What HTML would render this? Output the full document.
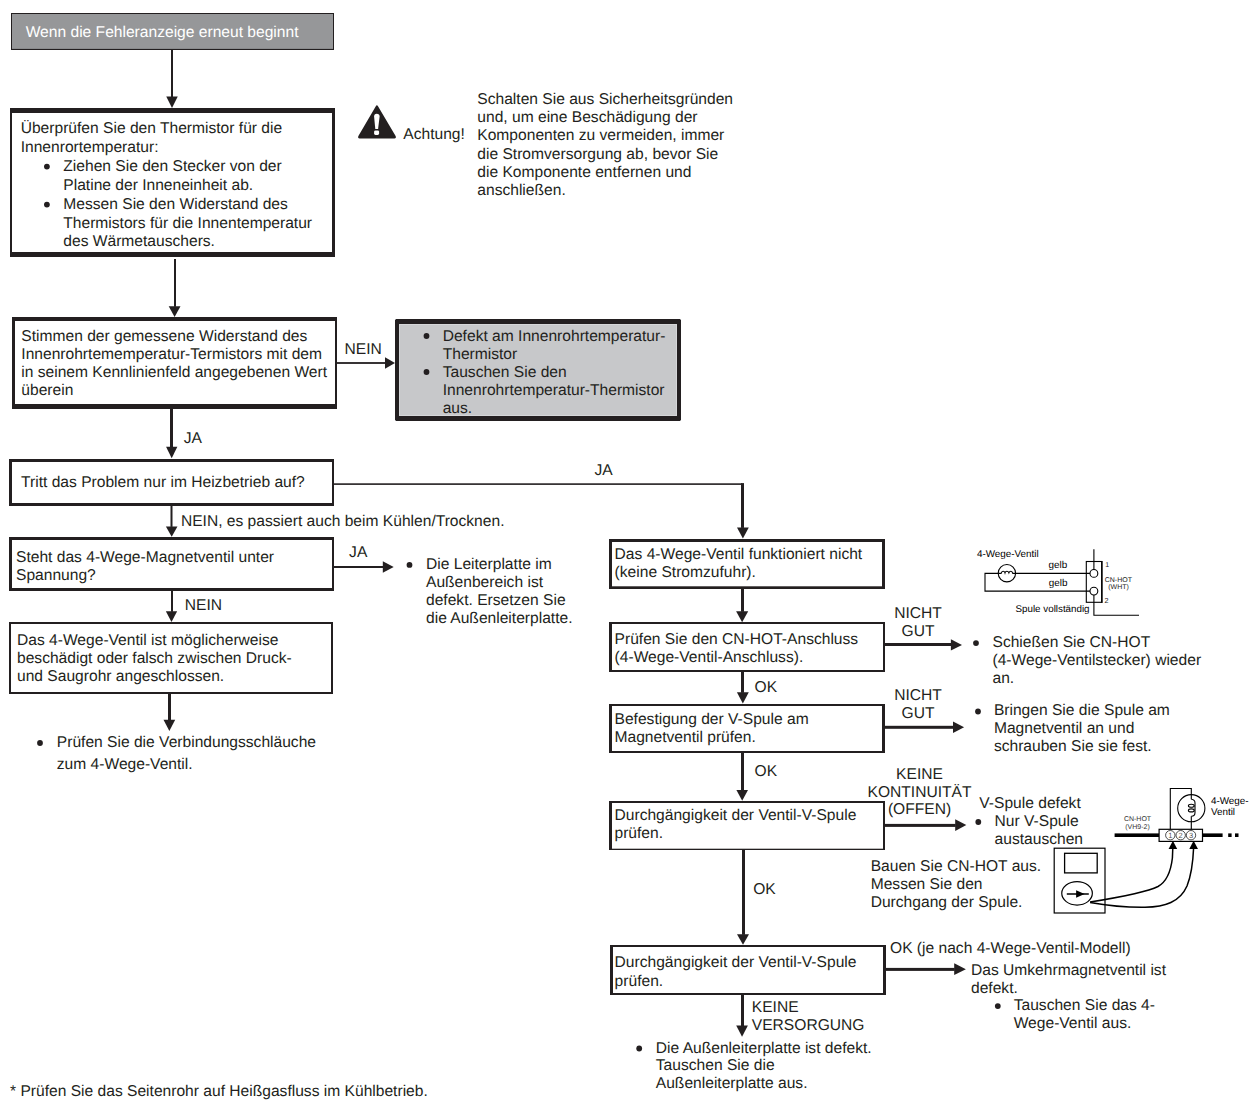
<!DOCTYPE html>
<html><head><meta charset="utf-8"><style>
html,body{margin:0;padding:0;background:#fff;width:1257px;height:1112px;overflow:hidden}
svg{display:block;font-family:"Liberation Sans",sans-serif;text-rendering:geometricPrecision}
</style></head><body>
<svg width="1257" height="1112" viewBox="0 0 1257 1112">
<rect x="11.00" y="13.00" width="323.00" height="37.00" fill="#969799"/>
<rect x="11.00" y="13.00" width="323.00" height="1.00" fill="#231f20"/>
<rect x="11.00" y="48.90" width="323.00" height="1.10" fill="#231f20"/>
<rect x="11.00" y="13.00" width="1.00" height="37.00" fill="#231f20"/>
<rect x="333.00" y="13.00" width="1.00" height="37.00" fill="#231f20"/>
<text x="25.70" y="37.00" font-size="15.6" fill="#fff">Wenn die Fehleranzeige erneut beginnt</text>
<rect x="171.00" y="50.00" width="2.00" height="47.10" fill="#231f20"/>
<path d="M166.25,96.60 L177.75,96.60 L172.00,108.00Z" fill="#231f20"/>
<rect x="10.00" y="108.00" width="325.00" height="5.00" fill="#231f20"/>
<rect x="10.00" y="252.00" width="325.00" height="5.00" fill="#231f20"/>
<rect x="10.00" y="108.00" width="2.00" height="149.00" fill="#231f20"/>
<rect x="332.00" y="108.00" width="3.00" height="149.00" fill="#231f20"/>
<text x="20.70" y="133.00" font-size="15.6" fill="#231f20">Überprüfen Sie den Thermistor für die</text>
<text x="20.70" y="151.90" font-size="15.6" fill="#231f20">Innenrortemperatur:</text>
<circle cx="46.90" cy="166.60" r="2.9" fill="#231f20"/>
<circle cx="46.90" cy="204.60" r="2.9" fill="#231f20"/>
<text x="63.30" y="170.80" font-size="15.6" fill="#231f20">Ziehen Sie den Stecker von der</text>
<text x="63.30" y="189.70" font-size="15.6" fill="#231f20">Platine der Inneneinheit ab.</text>
<text x="63.30" y="208.60" font-size="15.6" fill="#231f20">Messen Sie den Widerstand des</text>
<text x="63.30" y="227.50" font-size="15.6" fill="#231f20">Thermistors für die Innentemperatur</text>
<text x="63.30" y="246.40" font-size="15.6" fill="#231f20">des Wärmetauschers.</text>
<path d="M375.8,106.2 Q376.9,104.3 378.0,106.2 L395.6,136.0 Q396.6,138.4 394.4,138.4 L359.6,138.4 Q357.4,138.4 358.4,136.0 Z" fill="#231f20"/>
<path d="M374.1,116.5 Q374.1,113.7 376.7,113.7 Q379.6,113.7 379.6,116.5 L378.1,129.0 L375.3,129.0 Z" fill="#fff"/>
<rect x="374.1" y="130.4" width="5" height="4.5" rx="1.4" fill="#fff"/>
<text x="403.30" y="138.60" font-size="15.6" fill="#231f20">Achtung!</text>
<text x="477.30" y="103.80" font-size="15.6" fill="#231f20">Schalten Sie aus Sicherheitsgründen</text>
<text x="477.30" y="122.06" font-size="15.6" fill="#231f20">und, um eine Beschädigung der</text>
<text x="477.30" y="139.90" font-size="15.6" fill="#231f20">Komponenten zu vermeiden, immer</text>
<text x="477.30" y="158.90" font-size="15.6" fill="#231f20">die Stromversorgung ab, bevor Sie</text>
<text x="477.30" y="176.74" font-size="15.6" fill="#231f20">die Komponente entfernen und</text>
<text x="477.30" y="194.80" font-size="15.6" fill="#231f20">anschließen.</text>
<rect x="174.00" y="259.00" width="2.00" height="47.80" fill="#231f20"/>
<path d="M168.70,306.30 L180.50,306.30 L174.60,317.00Z" fill="#231f20"/>
<rect x="12.00" y="317.00" width="325.00" height="4.00" fill="#231f20"/>
<rect x="12.00" y="404.00" width="325.00" height="5.00" fill="#231f20"/>
<rect x="12.00" y="317.00" width="3.00" height="92.00" fill="#231f20"/>
<rect x="335.00" y="317.00" width="2.00" height="92.00" fill="#231f20"/>
<text x="21.30" y="340.80" font-size="15.6" fill="#231f20">Stimmen der gemessene Widerstand des</text>
<text x="21.30" y="358.80" font-size="15.6" fill="#231f20">Innenrohrtememperatur-Termistors mit dem</text>
<text x="21.30" y="376.80" font-size="15.6" fill="#231f20">in seinem Kennlinienfeld angegebenen Wert</text>
<text x="21.30" y="394.80" font-size="15.6" fill="#231f20">überein</text>
<rect x="337.00" y="362.10" width="48.50" height="1.80" fill="#231f20"/>
<path d="M385.00,357.25 L385.00,368.75 L395.00,363.00Z" fill="#231f20"/>
<text x="344.50" y="353.60" font-size="15.6" fill="#231f20">NEIN</text>
<rect x="395.00" y="319.00" width="286.00" height="102.00" fill="#c7c8ca"/>
<rect x="399.00" y="324.00" width="278.00" height="1.00" fill="#d5d6d8"/>
<rect x="399.00" y="324.00" width="1.00" height="92.00" fill="#d5d6d8"/>
<rect x="399.00" y="415.00" width="278.00" height="1.00" fill="#d5d6d8"/>
<rect x="676.00" y="324.00" width="1.00" height="92.00" fill="#d5d6d8"/>
<rect x="396.00" y="319.00" width="284.00" height="5.00" fill="#231f20"/>
<rect x="396.00" y="416.00" width="284.00" height="5.00" fill="#231f20"/>
<rect x="395.00" y="320.00" width="4.00" height="100.00" fill="#231f20"/>
<rect x="677.00" y="320.00" width="4.00" height="100.00" fill="#231f20"/>
<rect x="395.50" y="319.50" width="3.50" height="4.50" fill="#231f20"/>
<rect x="677.00" y="319.50" width="3.50" height="4.50" fill="#231f20"/>
<rect x="395.50" y="416.00" width="3.50" height="4.50" fill="#231f20"/>
<rect x="677.00" y="416.00" width="3.50" height="4.50" fill="#231f20"/>
<circle cx="426.50" cy="336.00" r="2.9" fill="#231f20"/>
<circle cx="426.50" cy="372.00" r="2.9" fill="#231f20"/>
<text x="442.70" y="340.70" font-size="15.6" fill="#231f20">Defekt am Innenrohrtemperatur-</text>
<text x="442.70" y="358.80" font-size="15.6" fill="#231f20">Thermistor</text>
<text x="442.70" y="376.90" font-size="15.6" fill="#231f20">Tauschen Sie den</text>
<text x="442.70" y="395.00" font-size="15.6" fill="#231f20">Innenrohrtemperatur-Thermistor</text>
<text x="442.70" y="413.10" font-size="15.6" fill="#231f20">aus.</text>
<rect x="170.00" y="409.00" width="3.00" height="38.20" fill="#231f20"/>
<path d="M166.05,446.70 L177.35,446.70 L171.70,458.30Z" fill="#231f20"/>
<text x="183.80" y="442.70" font-size="15.6" fill="#231f20">JA</text>
<rect x="9.00" y="459.00" width="325.00" height="3.00" fill="#231f20"/>
<rect x="9.00" y="503.00" width="325.00" height="3.00" fill="#231f20"/>
<rect x="9.00" y="459.00" width="3.00" height="47.00" fill="#231f20"/>
<rect x="332.00" y="459.00" width="2.00" height="47.00" fill="#231f20"/>
<text x="21.10" y="486.90" font-size="15.6" fill="#231f20">Tritt das Problem nur im Heizbetrieb auf?</text>
<rect x="334.00" y="483.30" width="408.00" height="1.60" fill="#231f20"/>
<rect x="741.00" y="483.10" width="3.00" height="44.80" fill="#231f20"/>
<path d="M737.00,527.40 L748.80,527.40 L742.90,538.40Z" fill="#231f20"/>
<text x="594.40" y="475.00" font-size="15.6" fill="#231f20">JA</text>
<rect x="170.50" y="506.00" width="2.00" height="20.90" fill="#231f20"/>
<path d="M165.90,526.40 L177.50,526.40 L171.70,536.80Z" fill="#231f20"/>
<text x="180.90" y="526.40" font-size="15.6" fill="#231f20">NEIN, es passiert auch beim Kühlen/Trocknen.</text>
<rect x="9.00" y="537.00" width="325.00" height="3.00" fill="#231f20"/>
<rect x="9.00" y="588.00" width="325.00" height="3.00" fill="#231f20"/>
<rect x="9.00" y="537.00" width="3.00" height="54.00" fill="#231f20"/>
<rect x="332.00" y="537.00" width="2.00" height="54.00" fill="#231f20"/>
<text x="16.00" y="561.70" font-size="15.6" fill="#231f20">Steht das 4-Wege-Magnetventil unter</text>
<text x="16.00" y="579.50" font-size="15.6" fill="#231f20">Spannung?</text>
<rect x="334.00" y="566.00" width="49.30" height="2.00" fill="#231f20"/>
<path d="M382.80,561.15 L382.80,572.85 L393.70,567.00Z" fill="#231f20"/>
<text x="349.10" y="557.10" font-size="15.6" fill="#231f20">JA</text>
<circle cx="409.50" cy="564.90" r="2.9" fill="#231f20"/>
<text x="426.00" y="568.90" font-size="15.6" fill="#231f20">Die Leiterplatte im</text>
<text x="426.00" y="586.80" font-size="15.6" fill="#231f20">Außenbereich ist</text>
<text x="426.00" y="604.70" font-size="15.6" fill="#231f20">defekt. Ersetzen Sie</text>
<text x="426.00" y="622.60" font-size="15.6" fill="#231f20">die Außenleiterplatte.</text>
<rect x="171.00" y="591.00" width="2.00" height="20.80" fill="#231f20"/>
<path d="M165.85,611.30 L177.15,611.30 L171.50,622.10Z" fill="#231f20"/>
<text x="184.80" y="610.40" font-size="15.6" fill="#231f20">NEIN</text>
<rect x="9.00" y="622.00" width="324.00" height="2.00" fill="#231f20"/>
<rect x="9.00" y="692.00" width="324.00" height="2.00" fill="#231f20"/>
<rect x="9.00" y="622.00" width="2.00" height="72.00" fill="#231f20"/>
<rect x="331.00" y="622.00" width="2.00" height="72.00" fill="#231f20"/>
<text x="17.00" y="644.60" font-size="15.6" fill="#231f20">Das 4-Wege-Ventil ist möglicherweise</text>
<text x="17.00" y="662.60" font-size="15.6" fill="#231f20">beschädigt oder falsch zwischen Druck-</text>
<text x="17.00" y="680.60" font-size="15.6" fill="#231f20">und Saugrohr angeschlossen.</text>
<rect x="168.00" y="694.00" width="3.00" height="26.30" fill="#231f20"/>
<path d="M163.50,719.80 L175.20,719.80 L169.35,730.90Z" fill="#231f20"/>
<circle cx="40.00" cy="743.00" r="2.9" fill="#231f20"/>
<text x="56.80" y="747.00" font-size="15.6" fill="#231f20">Prüfen Sie die Verbindungsschläuche</text>
<text x="56.80" y="768.70" font-size="15.6" fill="#231f20">zum 4-Wege-Ventil.</text>
<rect x="609.00" y="539.00" width="276.00" height="3.00" fill="#231f20"/>
<rect x="609.00" y="586.30" width="276.00" height="2.70" fill="#231f20"/>
<rect x="609.00" y="539.00" width="3.00" height="50.00" fill="#231f20"/>
<rect x="882.00" y="539.00" width="3.00" height="50.00" fill="#231f20"/>
<text x="614.60" y="558.70" font-size="15.6" fill="#231f20">Das 4-Wege-Ventil funktioniert nicht</text>
<text x="614.60" y="576.50" font-size="15.6" fill="#231f20">(keine Stromzufuhr).</text>
<rect x="741.00" y="589.00" width="3.00" height="22.80" fill="#231f20"/>
<path d="M736.10,611.30 L748.20,611.30 L742.15,622.20Z" fill="#231f20"/>
<rect x="609.00" y="622.00" width="276.00" height="2.00" fill="#231f20"/>
<rect x="609.00" y="670.00" width="276.00" height="2.00" fill="#231f20"/>
<rect x="609.00" y="622.00" width="3.00" height="50.00" fill="#231f20"/>
<rect x="883.00" y="622.00" width="2.00" height="50.00" fill="#231f20"/>
<text x="614.60" y="643.90" font-size="15.6" fill="#231f20">Prüfen Sie den CN-HOT-Anschluss</text>
<text x="614.60" y="662.20" font-size="15.6" fill="#231f20">(4-Wege-Ventil-Anschluss).</text>
<rect x="885.00" y="643.00" width="66.40" height="3.00" fill="#231f20"/>
<path d="M950.90,639.20 L950.90,650.60 L962.00,644.90Z" fill="#231f20"/>
<text x="918.00" y="618.20" font-size="15.6" fill="#231f20" text-anchor="middle">NICHT</text>
<text x="918.00" y="636.00" font-size="15.6" fill="#231f20" text-anchor="middle">GUT</text>
<circle cx="976.00" cy="643.10" r="2.9" fill="#231f20"/>
<text x="992.50" y="647.20" font-size="15.6" fill="#231f20">Schießen Sie CN-HOT</text>
<text x="992.50" y="665.20" font-size="15.6" fill="#231f20">(4-Wege-Ventilstecker) wieder</text>
<text x="992.50" y="683.20" font-size="15.6" fill="#231f20">an.</text>
<rect x="741.00" y="672.00" width="3.00" height="20.80" fill="#231f20"/>
<path d="M736.90,692.30 L748.80,692.30 L742.85,703.60Z" fill="#231f20"/>
<text x="754.60" y="692.00" font-size="15.6" fill="#231f20">OK</text>
<rect x="609.00" y="704.00" width="276.00" height="2.00" fill="#231f20"/>
<rect x="609.00" y="751.00" width="276.00" height="2.00" fill="#231f20"/>
<rect x="609.00" y="704.00" width="3.00" height="49.00" fill="#231f20"/>
<rect x="882.00" y="704.00" width="3.00" height="49.00" fill="#231f20"/>
<text x="614.50" y="723.90" font-size="15.6" fill="#231f20">Befestigung der V-Spule am</text>
<text x="614.50" y="742.30" font-size="15.6" fill="#231f20">Magnetventil prüfen.</text>
<rect x="885.00" y="725.80" width="68.50" height="3.00" fill="#231f20"/>
<path d="M953.00,721.50 L953.00,733.00 L964.10,727.25Z" fill="#231f20"/>
<text x="918.00" y="700.00" font-size="15.6" fill="#231f20" text-anchor="middle">NICHT</text>
<text x="918.00" y="718.40" font-size="15.6" fill="#231f20" text-anchor="middle">GUT</text>
<circle cx="978.00" cy="711.50" r="2.9" fill="#231f20"/>
<text x="993.90" y="715.40" font-size="15.6" fill="#231f20">Bringen Sie die Spule am</text>
<text x="993.90" y="733.20" font-size="15.6" fill="#231f20">Magnetventil an und</text>
<text x="993.90" y="751.00" font-size="15.6" fill="#231f20">schrauben Sie sie fest.</text>
<rect x="741.00" y="753.00" width="3.00" height="37.50" fill="#231f20"/>
<path d="M736.40,790.00 L748.00,790.00 L742.20,800.70Z" fill="#231f20"/>
<text x="754.60" y="776.00" font-size="15.6" fill="#231f20">OK</text>
<rect x="609.00" y="801.00" width="276.00" height="2.00" fill="#231f20"/>
<rect x="609.00" y="848.70" width="276.00" height="1.30" fill="#231f20"/>
<rect x="609.00" y="801.00" width="3.00" height="49.00" fill="#231f20"/>
<rect x="883.00" y="801.00" width="2.00" height="49.00" fill="#231f20"/>
<text x="614.50" y="819.50" font-size="15.6" fill="#231f20">Durchgängigkeit der Ventil-V-Spule</text>
<text x="614.50" y="838.10" font-size="15.6" fill="#231f20">prüfen.</text>
<rect x="885.00" y="823.90" width="70.70" height="3.00" fill="#231f20"/>
<path d="M955.20,819.20 L955.20,830.90 L966.30,825.05Z" fill="#231f20"/>
<text x="919.50" y="778.90" font-size="15.6" fill="#231f20" text-anchor="middle">KEINE</text>
<text x="919.50" y="796.60" font-size="15.6" fill="#231f20" text-anchor="middle">KONTINUITÄT</text>
<text x="919.50" y="813.70" font-size="15.6" fill="#231f20" text-anchor="middle">(OFFEN)</text>
<text x="979.30" y="807.70" font-size="15.6" fill="#231f20">V-Spule defekt</text>
<circle cx="978.30" cy="822.00" r="2.9" fill="#231f20"/>
<text x="994.60" y="825.60" font-size="15.6" fill="#231f20">Nur V-Spule</text>
<text x="994.60" y="843.70" font-size="15.6" fill="#231f20">austauschen</text>
<text x="870.70" y="871.40" font-size="15.6" fill="#231f20">Bauen Sie CN-HOT aus.</text>
<text x="870.70" y="889.30" font-size="15.6" fill="#231f20">Messen Sie den</text>
<text x="870.70" y="907.20" font-size="15.6" fill="#231f20">Durchgang der Spule.</text>
<rect x="742.00" y="850.00" width="3.00" height="84.80" fill="#231f20"/>
<path d="M737.00,934.30 L749.00,934.30 L743.00,944.80Z" fill="#231f20"/>
<text x="753.20" y="893.80" font-size="15.6" fill="#231f20">OK</text>
<rect x="610.00" y="945.00" width="276.00" height="2.00" fill="#231f20"/>
<rect x="610.00" y="993.00" width="276.00" height="2.00" fill="#231f20"/>
<rect x="610.00" y="945.00" width="3.00" height="50.00" fill="#231f20"/>
<rect x="883.00" y="945.00" width="3.00" height="50.00" fill="#231f20"/>
<text x="614.60" y="966.70" font-size="15.6" fill="#231f20">Durchgängigkeit der Ventil-V-Spule</text>
<text x="614.60" y="985.50" font-size="15.6" fill="#231f20">prüfen.</text>
<rect x="886.00" y="967.90" width="68.70" height="3.00" fill="#231f20"/>
<path d="M954.20,963.30 L954.20,975.10 L965.90,969.20Z" fill="#231f20"/>
<text x="890.00" y="953.30" font-size="15.6" fill="#231f20">OK (je nach 4-Wege-Ventil-Modell)</text>
<text x="971.00" y="975.40" font-size="15.6" fill="#231f20">Das Umkehrmagnetventil ist</text>
<text x="971.00" y="992.60" font-size="15.6" fill="#231f20">defekt.</text>
<circle cx="997.80" cy="1006.10" r="2.9" fill="#231f20"/>
<text x="1013.70" y="1010.30" font-size="15.6" fill="#231f20">Tauschen Sie das 4-</text>
<text x="1013.70" y="1028.10" font-size="15.6" fill="#231f20">Wege-Ventil aus.</text>
<rect x="741.00" y="995.00" width="3.00" height="31.00" fill="#231f20"/>
<path d="M736.20,1025.50 L747.90,1025.50 L742.05,1036.80Z" fill="#231f20"/>
<text x="751.80" y="1011.80" font-size="15.6" fill="#231f20">KEINE</text>
<text x="751.80" y="1029.60" font-size="15.6" fill="#231f20">VERSORGUNG</text>
<circle cx="639.20" cy="1048.50" r="2.9" fill="#231f20"/>
<text x="655.80" y="1052.50" font-size="15.6" fill="#231f20">Die Außenleiterplatte ist defekt.</text>
<text x="655.80" y="1070.10" font-size="15.6" fill="#231f20">Tauschen Sie die</text>
<text x="655.80" y="1087.70" font-size="15.6" fill="#231f20">Außenleiterplatte aus.</text>
<text x="10.00" y="1096.20" font-size="15.6" fill="#231f20">* Prüfen Sie das Seitenrohr auf Heißgasfluss im Kühlbetrieb.</text>
<circle cx="1006.9" cy="573.2" r="8.7" stroke="#000" fill="none" stroke-width="1.1"/>
<path d="M998.2,573.4 L1001.1,573.4 Q1001.6,571.3 1003.1,571.3 Q1004.6,571.3 1005,572.8 Q1005.4,571.3 1006.9,571.3 Q1008.4,571.3 1008.9,572.8 Q1009.4,571.3 1010.9,571.3 Q1012.3,571.3 1012.8,573.4 L1015.6,573.4" stroke="#000" fill="none" stroke-width="1.1"/>
<path d="M998.2,573.4 L985,573.4 L985,591.1 L1090,591.1" stroke="#000" fill="none" stroke-width="1.1"/>
<path d="M1015.6,573.4 L1090,573.4" stroke="#000" fill="none" stroke-width="1.1"/>
<rect x="1086.3" y="561.5" width="15.4" height="40.8" stroke="#000" fill="none" stroke-width="1.1"/>
<rect x="1101.20" y="561.00" width="1.40" height="41.90" fill="#000"/>
<circle cx="1093.9" cy="573.4" r="3.9" fill="#fff" stroke="#000" stroke-width="1.1"/>
<circle cx="1093.9" cy="591.1" r="3.9" fill="#fff" stroke="#000" stroke-width="1.1"/>
<path d="M1093.9,549.3 L1093.9,569.5 M1093.9,595 L1093.9,615.3 L1139,615.3" stroke="#000" fill="none" stroke-width="1.1"/>
<text x="976.90" y="556.90" font-size="9.9" fill="#000">4-Wege-Ventil</text>
<text x="1048.50" y="568.10" font-size="9.9" fill="#000">gelb</text>
<text x="1048.80" y="586.00" font-size="9.9" fill="#000">gelb</text>
<text x="1015.50" y="611.60" font-size="9.8" fill="#000">Spule vollständig</text>
<text x="1105.20" y="567.40" font-size="7" fill="#222">1</text>
<text x="1104.40" y="602.60" font-size="7.2" fill="#222">2</text>
<text x="1118.30" y="581.50" font-size="7" fill="#222" text-anchor="middle">CN-HOT</text>
<text x="1118.50" y="588.70" font-size="7" fill="#222" text-anchor="middle">(WHT)</text>
<rect x="1054.2" y="848.2" width="50.8" height="64.8" stroke="#000" fill="none" stroke-width="1.2"/>
<rect x="1064.6" y="853.3" width="32.6" height="19.6" stroke="#000" fill="none" stroke-width="1.3"/>
<ellipse cx="1077.05" cy="893.35" rx="15.3" ry="11.7" stroke="#000" fill="none" stroke-width="1.2"/>
<path d="M1066.8,894 L1088.8,894" stroke="#000" fill="none" stroke-width="1.5"/>
<path d="M1076.1,890.2 L1084.6,894 L1076.1,897.8Z" fill="#000"/>
<rect x="1114.60" y="833.40" width="44.50" height="3.60" fill="#000"/>
<rect x="1202.60" y="833.40" width="20.00" height="3.60" fill="#000"/>
<rect x="1228.20" y="833.40" width="3.40" height="3.60" fill="#000"/>
<rect x="1235.00" y="833.40" width="3.50" height="3.60" fill="#000"/>
<rect x="1159.1" y="829.3" width="43.4" height="12.1" fill="#fff" stroke="#000" stroke-width="1.2"/>
<circle cx="1170.3" cy="835.2" r="4.7" fill="#fff" stroke="#222" stroke-width="0.8"/>
<text x="1170.30" y="838.00" font-size="7.5" fill="#555" text-anchor="middle">1</text>
<circle cx="1180.7" cy="835.2" r="4.7" fill="#fff" stroke="#222" stroke-width="0.8"/>
<text x="1180.70" y="838.00" font-size="7.5" fill="#555" text-anchor="middle">2</text>
<circle cx="1191" cy="835.2" r="4.7" fill="#fff" stroke="#222" stroke-width="0.8"/>
<text x="1191.00" y="838.00" font-size="7.5" fill="#555" text-anchor="middle">3</text>
<path d="M1170.3,829.3 L1170.3,788.5 L1191.3,788.5 L1191.3,799.3 M1191.3,816.3 L1191.3,829.3" stroke="#000" fill="none" stroke-width="1.1"/>
<circle cx="1191.3" cy="808.2" r="13.6" stroke="#000" fill="none" stroke-width="1.1"/>
<path d="M1191.3,799.3 C1194,799.5 1195,801 1195,803 L1195,812.5 C1195,815 1193.5,816.3 1191.3,816.3" stroke="#000" fill="none" stroke-width="1.1"/>
<ellipse cx="1191.3" cy="805.7" rx="2.9" ry="1.5" stroke="#000" fill="none" stroke-width="1.1"/>
<ellipse cx="1191.3" cy="810.4" rx="2.9" ry="1.5" stroke="#000" fill="none" stroke-width="1.1"/>
<text x="1210.90" y="803.70" font-size="9.9" fill="#000">4-Wege-</text>
<text x="1210.90" y="814.90" font-size="9.9" fill="#000">Ventil</text>
<text x="1137.50" y="821.00" font-size="7" fill="#333" text-anchor="middle">CN-HOT</text>
<text x="1137.50" y="828.70" font-size="7" fill="#333" text-anchor="middle">(VH9-2)</text>
<path d="M1090.1,902.1 C1115,898 1145,893 1158,886.5 C1168,881 1171,870 1172.4,858 L1172.8,848" stroke="#000" fill="none" stroke-width="1.5"/>
<path d="M1090.1,902.4 C1105,905 1125,907.5 1145,907.2 C1165,907 1180,902 1187,886 C1191,876 1193,862 1193.6,848" stroke="#000" fill="none" stroke-width="1.5"/>
<path d="M1168.6,849 L1177.2,849 L1172.9,840.8Z" fill="#000"/>
<path d="M1189.3,849 L1198,849 L1193.6,840.8Z" fill="#000"/>
</svg>
</body></html>
